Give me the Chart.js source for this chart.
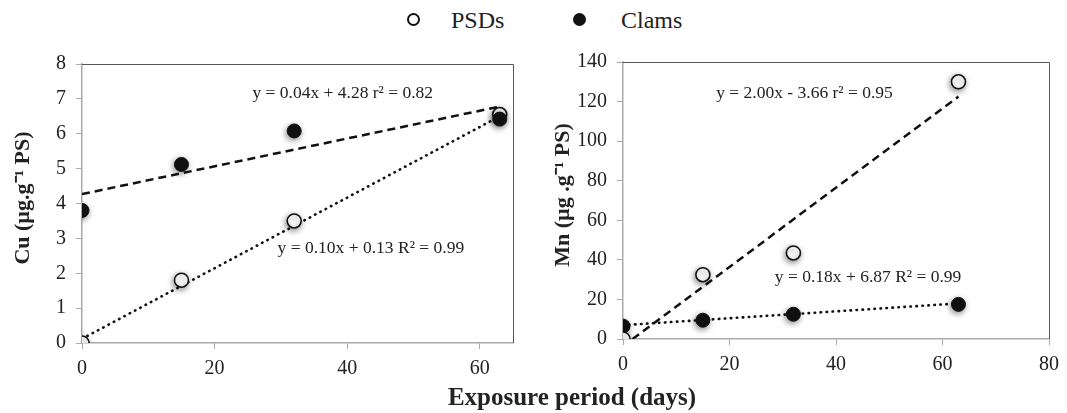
<!DOCTYPE html>
<html>
<head>
<meta charset="utf-8">
<script src="https://cdn.jsdelivr.net/npm/chart.js@4.4.1/dist/chart.umd.min.js"></script>
<style>
    body { margin: 0; background: #fff; width: 1067px; height: 413px; position: relative; overflow: hidden; font-family: 'Liberation Serif', serif; color: #222; }
    .box { position: absolute; }
    #legend { position: absolute; top: 6px; left: 0; width: 1067px; height: 30px; }
    .dot { position: absolute; width: 9px; height: 9px; border-radius: 50%; border: 2px solid #111; top: 7px; }
    .lbl { position: absolute; font-size: 24px; top: 0; line-height: 28px; }
    #xtitle { position: absolute; top: 382px; left: 0; width: 1144px; text-align: center; font-size: 25px; font-weight: bold; line-height: 30px; }
</style>
</head>
<body>
<div id="legend">
    <div class="dot" style="left:407px;background:#fff"></div>
    <div class="lbl" style="left:451px">PSDs</div>
    <div class="dot" style="left:573px;background:#111"></div>
    <div class="lbl" style="left:621px">Clams</div>
</div>
<div class="box" style="left:0;top:40px;width:540px;height:345px"><canvas id="cuChart"></canvas></div>
<div class="box" style="left:540px;top:40px;width:527px;height:345px"><canvas id="mnChart"></canvas></div>
<div id="xtitle">Exposure period (days)</div>
<script>
// 노출 기간 (days)
const days = [0, 15, 32, 63];

// Cu
const cuPSDs = [0, 1.8, 3.5, 6.55];
const cuClams = [3.8, 5.12, 6.08, 6.42];
const cuFitX = [0, 63];
const cuFitPSDs = [0.12, 6.5];     // y = 0.10x + 0.13
const cuFitClams = [4.27, 6.78];   // y = 0.04x + 4.28
const cuEquations = ['y = 0.04x + 4.28 r² = 0.82', 'y = 0.10x + 0.13 R² = 0.99'];
const cuEqX = [25.7, 29.5];
const cuEqY = [7.15, 2.7];

// Mn
const mnPSDs = [0, 32.5, 43.5, 130];
const mnClams = [6.5, 9.5, 12.5, 17.5];
const mnFitPSDsX = [1.8, 63];
const mnFitPSDs = [0, 122.5];      // y = 2.00x - 3.66
const mnFitClamsX = [0, 63];
const mnFitClams = [7, 18];        // y = 0.18x + 6.87
const mnEquations = ['y = 2.00x - 3.66 r² = 0.95', 'y = 0.18x + 6.87 R² = 0.99'];
const mnEqX = [17.5, 28.5];
const mnEqY = [124, 31];

const serif = "'Liberation Serif', 'Times New Roman', serif";

function pts(xs, ys) {
    return xs.map((x, i) => ({ x: x, y: ys[i] }));
}

// 마커 그림자
const shadowPlugin = {
    id: 'shadow',
    beforeDatasetDraw(chart, args) {
        const ds = chart.data.datasets[args.index];
        if (!ds.isMarker) return;
        const ctx = chart.ctx;
        ctx.save();
        ctx.shadowColor = 'rgba(0,0,0,0.45)';
        ctx.shadowBlur = 6;
        ctx.shadowOffsetX = -1;
        ctx.shadowOffsetY = 2;
    },
    afterDatasetDraw(chart, args) {
        const ds = chart.data.datasets[args.index];
        if (!ds.isMarker) return;
        chart.ctx.restore();
    }
};

// 위/오른쪽 테두리 + 회귀식 텍스트
const framePlugin = {
    id: 'frame',
    afterDraw(chart, args, opts) {
        const ctx = chart.ctx;
        const a = chart.chartArea;
        ctx.save();
        ctx.strokeStyle = '#555';
        ctx.lineWidth = 1;
        ctx.beginPath();
        ctx.moveTo(a.left, a.top + 0.5);
        ctx.lineTo(a.right + 0.5, a.top + 0.5);
        ctx.lineTo(a.right + 0.5, a.bottom);
        ctx.stroke();

        ctx.fillStyle = '#222';
        ctx.font = '17.5px ' + serif;
        ctx.textBaseline = 'middle';
        ctx.textAlign = 'left';
        opts.texts.forEach((t, i) => {
            ctx.fillText(t, chart.scales.x.getPixelForValue(opts.xs[i]), chart.scales.y.getPixelForValue(opts.ys[i]));
        });
        ctx.restore();
    }
};

function fitLine(data, dashed) {
    return {
        label: 'fit',
        data: data,
        order: 5,
        showLine: true,
        pointRadius: 0,
        borderColor: '#111',
        borderWidth: dashed ? 2.5 : 2.6,
        borderDash: dashed ? [8, 5] : [0.5, 5.5],
        borderCapStyle: dashed ? 'butt' : 'round'
    };
}

function makeChart(id, cfg) {
    const ctx = document.getElementById(id).getContext('2d');
    new Chart(ctx, {
        type: 'scatter',
        data: {
            datasets: [
                {
                    label: 'PSDs',
                    data: pts(days, cfg.psds),
                    order: cfg.psdsOnTop ? 0 : 1,
                    isMarker: true,
                    pointRadius: 7,
                    pointBackgroundColor: '#fff',
                    pointBorderColor: '#111',
                    pointBorderWidth: 1.6,
                    showLine: false
                },
                {
                    label: 'Clams',
                    data: pts(days, cfg.clams),
                    order: cfg.psdsOnTop ? 1 : 0,
                    isMarker: true,
                    pointRadius: 7,
                    pointBackgroundColor: '#111',
                    pointBorderColor: '#111',
                    pointBorderWidth: 1,
                    showLine: false
                },
                fitLine(cfg.fit1, true),
                fitLine(cfg.fit2, false)
            ]
        },
        options: {
            responsive: true,
            maintainAspectRatio: false,
            animation: false,
            layout: { padding: cfg.padding },
            plugins: {
                legend: { display: false },
                tooltip: { enabled: false },
                frame: { texts: cfg.eq, xs: cfg.eqX, ys: cfg.eqY }
            },
            scales: {
                x: {
                    type: 'linear',
                    min: 0,
                    max: cfg.xMax,
                    afterFit: s => { s.height = cfg.xHeight; },
                    grid: { drawOnChartArea: false, drawTicks: true, tickLength: 6, color: '#aaa' },
                    border: { color: '#aaa', width: 1.5 },
                    ticks: { stepSize: 20, includeBounds: false, padding: 8, color: '#222', font: { family: serif, size: 20 } }
                },
                y: {
                    min: 0,
                    max: cfg.yMax,
                    afterFit: s => { s.width = cfg.yWidth; },
                    grid: { drawOnChartArea: false, drawTicks: true, tickLength: 6, color: '#aaa' },
                    border: { color: '#aaa', width: 1.5 },
                    ticks: { stepSize: cfg.yStep, padding: 10, color: '#222', font: { family: serif, size: 20 } },
                    title: {
                        display: true,
                        text: '\u2002' + cfg.yTitle,
                        color: '#222',
                        padding: { top: 0, bottom: 0 },
                        font: { family: serif, size: 22, weight: 'bold' }
                    }
                }
            }
        },
        plugins: [shadowPlugin, framePlugin]
    });
}

makeChart('cuChart', {
    psds: cuPSDs, clams: cuClams, psdsOnTop: false,
    fit1: pts(cuFitX, cuFitClams),
    fit2: pts(cuFitX, cuFitPSDs),
    eq: cuEquations, eqX: cuEqX, eqY: cuEqY,
    xMax: 65, yMax: 8, yStep: 1,
    yTitle: 'Cu (µg.g⁻¹ PS)',
    padding: { top: 24, right: 27, bottom: 0, left: 10 },
    yWidth: 72, xHeight: 42
});

makeChart('mnChart', {
    psds: mnPSDs, clams: mnClams, psdsOnTop: true,
    fit1: pts(mnFitPSDsX, mnFitPSDs),
    fit2: pts(mnFitClamsX, mnFitClams),
    eq: mnEquations, eqX: mnEqX, eqY: mnEqY,
    xMax: 80, yMax: 140, yStep: 20,
    yTitle: 'Mn (µg .g⁻¹ PS)',
    padding: { top: 21, right: 12, bottom: 0, left: 10 },
    yWidth: 73, xHeight: 46
});
</script>
</body>
</html>
